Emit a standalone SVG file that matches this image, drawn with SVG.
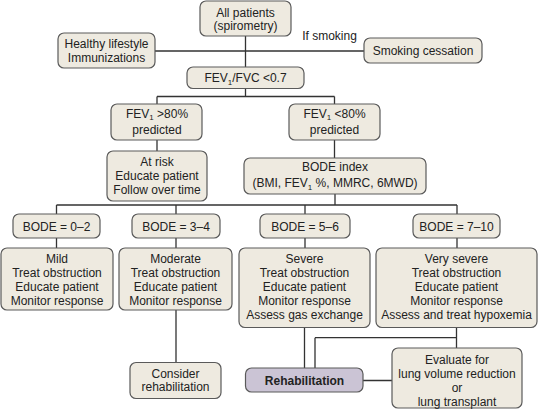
<svg xmlns="http://www.w3.org/2000/svg" width="538" height="410" viewBox="0 0 538 410">
<style>
.b{fill:#eeeae0;stroke:#5a5a5a;stroke-width:1.2}
.r{fill:#cbc4d5;stroke:#5a5a5a;stroke-width:1.2}
text{font-family:"Liberation Sans",Arial,sans-serif;font-size:12px;fill:#222;text-anchor:middle}
.bold{font-weight:bold}
#connectors path{fill:none;stroke:#333;stroke-width:1.3}
</style>
<rect width="538" height="410" fill="#fff"/>
<g id="connectors">
<path d="M245.5 36V67M155 51H364M245.5 88.5V96.5M157 96.5H334.5M157 96.5V104M334.5 96.5V104M157 140V151M334.5 140V158M335 194V205M56.5 205H457M56.5 205V214M176 205V214M305 205V214M457 205V214M56.5 238V248M176 238V248M305 238V248M457 238V248M176 310V362.5M304.5 327.5V368M456.5 327.5V348M315 337.7H456.5M315 337.7V368M363 380.5H392"/>
</g>
<g id="allpatients"><rect class="b" x="200" y="1" width="91" height="35" rx="6"/><text x="245.5" y="16.5">All patients</text><text x="245.5" y="30">(spirometry)</text></g>
<g id="healthy"><rect class="b" x="58" y="33" width="97" height="35" rx="6"/><text x="106.5" y="48">Healthy lifestyle</text><text x="106.5" y="62">Immunizations</text></g>
<g id="ifsmoking"><text x="329.5" y="40">If smoking</text></g>
<g id="smoking"><rect class="b" x="364" y="38" width="118" height="25" rx="6"/><text x="423" y="55">Smoking cessation</text></g>
<g id="ratio"><rect class="b" x="187" y="67" width="117" height="21.5" rx="6"/><text x="245.5" y="82">FEV<tspan font-size="8" dy="2.5">1</tspan><tspan dy="-2.5">/FVC &lt;0.7</tspan></text></g>
<g id="gt80"><rect class="b" x="111" y="104" width="91" height="36" rx="6"/><text x="157" y="118">FEV<tspan font-size="8" dy="2">1</tspan><tspan dy="-2"> &gt;80%</tspan></text><text x="157" y="134">predicted</text></g>
<g id="lt80"><rect class="b" x="289" y="104" width="91" height="36" rx="6"/><text x="334.5" y="118">FEV<tspan font-size="8" dy="2">1</tspan><tspan dy="-2"> &lt;80%</tspan></text><text x="334.5" y="134">predicted</text></g>
<g id="atrisk"><rect class="b" x="107" y="151" width="100" height="50" rx="6"/><text x="157" y="166">At risk</text><text x="157" y="180">Educate patient</text><text x="157" y="194">Follow over time</text></g>
<g id="bode"><rect class="b" x="244" y="158" width="182" height="36" rx="6"/><text x="335" y="171">BODE index</text><text x="335" y="187">(BMI, FEV<tspan font-size="8" dy="2.5">1</tspan><tspan dy="-2.5"> %, MMRC, 6MWD)</tspan></text></g>
<g id="bode02"><rect class="b" x="13" y="214" width="87" height="24" rx="6"/><text x="56.5" y="230.5">BODE = 0–2</text></g>
<g id="bode34"><rect class="b" x="132" y="214" width="88" height="24" rx="6"/><text x="176" y="230.5">BODE = 3–4</text></g>
<g id="bode56"><rect class="b" x="260" y="214" width="90" height="24" rx="6"/><text x="305" y="230.5">BODE = 5–6</text></g>
<g id="bode710"><rect class="b" x="413" y="214" width="87" height="24" rx="6"/><text x="456.5" y="230.5">BODE = 7–10</text></g>
<g id="mild"><rect class="b" x="1" y="248" width="112" height="62" rx="6"/><text x="57" y="263">Mild</text><text x="57" y="277">Treat obstruction</text><text x="57" y="291">Educate patient</text><text x="57" y="305">Monitor response</text></g>
<g id="moderate"><rect class="b" x="119" y="248" width="113" height="62" rx="6"/><text x="175.5" y="263">Moderate</text><text x="175.5" y="277">Treat obstruction</text><text x="175.5" y="291">Educate patient</text><text x="175.5" y="305">Monitor response</text></g>
<g id="severe"><rect class="b" x="239" y="248" width="131" height="79.5" rx="6"/><text x="304.5" y="263">Severe</text><text x="304.5" y="277">Treat obstruction</text><text x="304.5" y="291">Educate patient</text><text x="304.5" y="305">Monitor response</text><text x="304.5" y="319">Assess gas exchange</text></g>
<g id="verysevere"><rect class="b" x="376" y="248" width="161" height="79.5" rx="6"/><text x="456.5" y="263">Very severe</text><text x="456.5" y="277">Treat obstruction</text><text x="456.5" y="291">Educate patient</text><text x="456.5" y="305">Monitor response</text><text x="456.5" y="319">Assess and treat hypoxemia</text></g>
<g id="consider"><rect class="b" x="130" y="362.5" width="91" height="36" rx="6"/><text x="175.5" y="377.5">Consider</text><text x="175.5" y="391">rehabilitation</text></g>
<g id="rehab"><rect class="r" x="245.5" y="368" width="117.5" height="24" rx="6"/><text class="bold" x="304.5" y="384.5">Rehabilitation</text></g>
<g id="evaluate"><rect class="b" x="392" y="348" width="130" height="60" rx="6"/><text x="457" y="363.5">Evaluate for</text><text x="457" y="377.5">lung volume reduction</text><text x="457" y="391.5">or</text><text x="457" y="405.5">lung transplant</text></g>
</svg>
